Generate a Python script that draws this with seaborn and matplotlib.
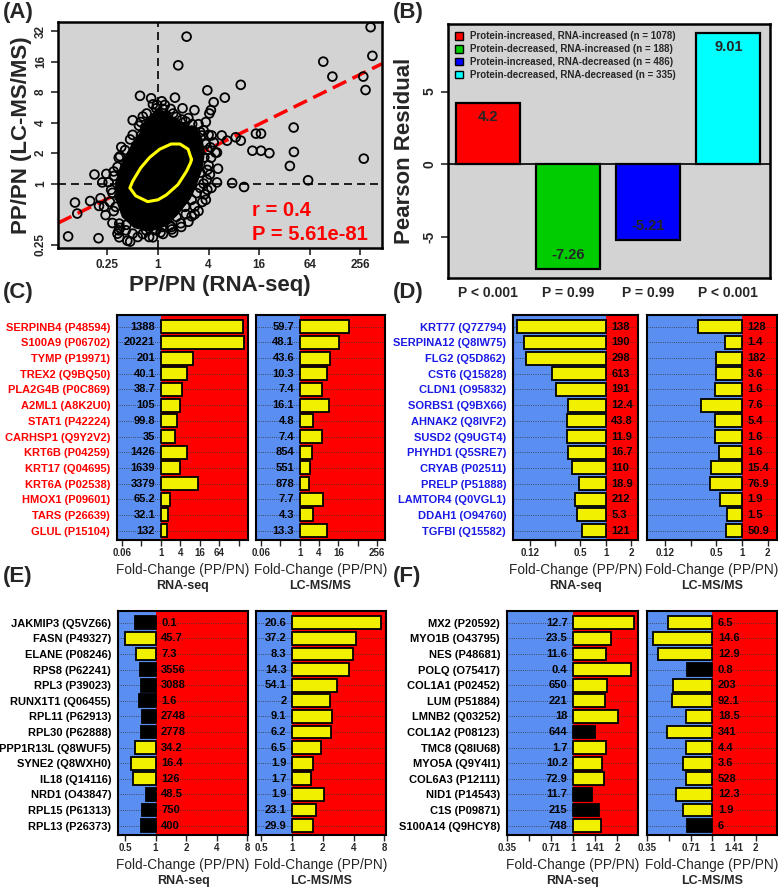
import matplotlib
matplotlib.use('Agg')
import matplotlib.pyplot as plt
import seaborn as sns
from matplotlib.patches import Patch

sns.set_theme(style='white')
plt.rcParams['font.family'] = ['Liberation Sans', 'DejaVu Sans']

# ---------------- panel A data (log2 fold change) ----------------
scatter_rna = [1.13, 0.80, 3.27, 1.95, 0.67, -0.71, -0.27, 0.97, -0.04, 2.20, 2.64, 1.44, 2.09, 2.03, 1.89,
               -1.00, 0.73, -0.68, 1.09, 1.03, -0.51,
               6.53, 6.89, 8.40, 8.47, 8.11, 8.20, 5.36, 5.37, 5.21, 8.13, 5.93, 3.40, 2.93, 2.33, 2.11,
               2.12, 2.52, 2.73, 3.07, 3.27, 3.87, 4.07, 3.73, 4.07, 4.40, 2.27, 2.37,
               1.89, 1.33, 0.92, 0.53, 0.17, -0.20, -1.21, -1.60, -2.35, -3.55, -3.19, -3.28, -2.68, -2.33,
               -2.51, -2.20, -2.04, -2.27, -2.13, -2.07, -1.80, -1.55, -1.53,
               1.67, 1.73, 1.53, 2.07, 2.33, 1.83, 1.67, 1.93, 1.67, 1.53, 1.33, 1.07, 0.73, 0.47, -0.07,
               -0.47, -1.00, -1.27, -1.53, -1.67, -1.53, -1.40, -1.20, -1.27, -1.07, -0.87, -0.67, -0.47,
               -0.27, 0.04, -0.07, 0.33, 0.60, 0.93, 1.33, 0.27, -1.33, -1.07, -0.80,
               1.90, 2.00, 1.80, 1.45, 1.10, 0.20, -0.80, -1.80, -1.75, -1.55, -1.30, -1.00, -0.60, 0.15,
               0.50, 1.20, 1.60, 2.20, 2.10, 1.95, 1.85, 1.60, 0.90, 0.60, -0.35, -1.10, -1.90, -1.95,
               -1.60, -1.45,
               2.00, 2.05, 1.75, 1.20, 0.10, -0.60, -1.25, -1.75, -1.85, -1.75, -1.50, -1.10, -0.75,
               -0.45, -0.20, 0.20, 0.60, 0.95, 1.35, 1.80, 1.95, 1.95, 1.45, 0.55, -1.50]
scatter_prot = [4.82, 3.88, 3.24, 3.06, 2.82, 2.88, 2.80, 2.47, 2.58, 2.67, 2.82, 2.41, 2.41, 2.30, 2.02,
                2.08, 2.19, 2.02, 2.04, 1.84, 1.84,
                4.00, 3.51, 5.13, 4.19, 3.51, 3.07, 1.84, 1.04, 0.58, 0.82, 0.11, -0.11, 0.02, 0.04, -0.14,
                1.58, 1.58, 1.41, 1.52, 1.41, 1.64, 1.64, 1.08, 1.08, 1.00, 1.02, 0.49,
                -0.53, -1.07, -1.42, -1.42, -1.42, -1.76, -1.87, -1.64, -1.79, -1.73, -0.98, -0.62, -0.57, -0.73,
                0.30, 0.04, 0.32, -0.48, -0.76, -1.03, -1.29, -1.53, -1.76,
                1.69, 1.58, 1.36, 1.19, 1.02, 0.86, 0.36, 0.13, -0.14, -0.31, -0.53, -0.76, -1.09, -1.37, -1.53,
                -1.53, -1.64, -1.53, -1.31, -0.76, -0.42, -0.09, 0.19, 0.58, 0.80, 1.24, 1.58, 1.80,
                2.02, 2.30, 2.47, 2.24, 2.02, 1.86, 1.74, 2.58, 0.08, 0.47, 0.36,
                1.30, 0.60, 0.00, -0.75, -1.00, -1.65, -1.75, -0.30, 0.25, 0.85, 1.10, 1.60, 2.20, 2.70,
                2.45, 2.15, 1.95, 1.35, 0.85, 0.45, -0.35, -0.90, -1.30, -1.60, -1.75, -1.90, -0.60, 0.05,
                0.55, 1.20,
                1.60, 0.30, -0.60, -1.25, -1.60, -1.65, -1.35, -0.90, -0.20, 0.40, 0.90, 1.45, 1.90,
                2.30, 2.60, 2.45, 2.30, 2.10, 1.95, 1.75, 1.10, -0.20, -1.00, -1.50, -1.45]
# dense core of the cloud (outline of the solid black area)
core_rna = [-0.07, 0.40, 0.73, 1.13, 1.53, 1.73, 1.83, 1.73, 1.53, 1.27, 0.80, 0.33, -0.33, -0.93,
            -1.40, -1.64, -1.67, -1.47, -1.20, -0.87, -0.53, -0.27]
core_prot = [2.41, 2.30, 2.08, 1.91, 1.80, 1.47, 1.02, 0.47, 0.02, -0.48, -0.98, -1.37, -1.56, -1.44,
             -1.09, -0.53, 0.02, 0.58, 1.02, 1.47, 1.86, 2.24]
# yellow density contour
contour_rna = [1.32, 1.19, 0.87, 0.52, 0.07, -0.33, -0.68, -1.00, -1.11, -0.88, -0.41, 0.00, 0.33,
               0.79, 1.13, 1.29, 1.32]
contour_prot = [0.80, 1.13, 1.30, 1.30, 1.13, 0.86, 0.52, 0.08, -0.14, -0.40, -0.59, -0.53, -0.37,
                -0.03, 0.41, 0.69, 0.80]
reg_intercept = 0.32
reg_slope = 0.408
a_xticks = [-2, 0, 2, 4, 6, 8]
a_xticklabels = ['0.25', '1', '4', '16', '64', '256']
a_yticks = [-2, 0, 1, 2, 3, 4, 5]
a_yticklabels = ['0.25', '1', '2', '4', '8', '16', '32']

# ---------------- panel B data ----------------
b_groups = ['Protein-increased, RNA-increased (n = 1078)',
            'Protein-decreased, RNA-increased (n = 188)',
            'Protein-increased, RNA-decreased (n = 486)',
            'Protein-decreased, RNA-decreased (n = 335)']
b_residuals = [4.2, -7.26, -5.21, 9.01]
b_pvals = ['P < 0.001', 'P = 0.99', 'P = 0.99', 'P < 0.001']
b_colors = ['#ff0000', '#00cd00', '#0000ff', '#00ffff']

# ---------------- panels C-F data (log2 fold change PP/PN) ----------------
c_genes = ['SERPINB4 (P48594)', 'S100A9 (P06702)', 'TYMP (P19971)', 'TREX2 (Q9BQ50)', 'PLA2G4B (P0C869)',
           'A2ML1 (A8K2U0)', 'STAT1 (P42224)', 'CARHSP1 (Q9Y2V2)', 'KRT6B (P04259)', 'KRT17 (Q04695)',
           'KRT6A (P02538)', 'HMOX1 (P09601)', 'TARS (P26639)', 'GLUL (P15104)']
c_rna_fc = [8.46, 8.57, 3.28, 2.66, 2.15, 1.98, 1.64, 1.43, 2.70, 2.01, 3.79, 0.96, 0.78, 0.68]
c_prot_fc = [5.04, 4.10, 3.13, 2.78, 2.33, 2.99, 1.39, 2.33, 1.32, 1.11, 1.01, 2.43, 1.39, 2.78]
c_rna_n = ['1388', '20221', '201', '40.1', '38.7', '105', '99.8', '35', '1426', '1639', '3379', '65.2', '32.1', '132']
c_prot_n = ['59.7', '48.1', '43.6', '10.3', '7.4', '16.1', '4.8', '7.4', '854', '551', '878', '7.7', '4.3', '13.3']
c_rna_sig = [1] * 14
c_prot_sig = [1] * 14

d_genes = ['KRT77 (Q7Z794)', 'SERPINA12 (Q8IW75)', 'FLG2 (Q5D862)', 'CST6 (Q15828)', 'CLDN1 (O95832)',
           'SORBS1 (Q9BX66)', 'AHNAK2 (Q8IVF2)', 'SUSD2 (Q9UGT4)', 'PHYHD1 (Q5SRE7)', 'CRYAB (P02511)',
           'PRELP (P51888)', 'LAMTOR4 (Q0VGL1)', 'DDAH1 (O94760)', 'TGFBI (Q15582)']
d_rna_fc = [-3.49, -3.22, -3.16, -2.12, -1.95, -1.47, -1.51, -1.51, -1.49, -1.33, -1.05, -1.21, -1.13, -0.93]
d_prot_fc = [-1.73, -0.65, -1.00, -1.03, -1.04, -1.60, -1.05, -1.05, -0.88, -1.21, -1.23, -0.84, -0.58, -0.62]
d_rna_n = ['138', '190', '298', '613', '191', '12.4', '43.8', '11.9', '16.7', '110', '18.9', '212', '5.3', '121']
d_prot_n = ['128', '1.4', '182', '3.6', '1.6', '7.6', '5.4', '1.6', '1.6', '15.4', '76.9', '1.9', '1.5', '50.9']
d_rna_sig = [1] * 14
d_prot_sig = [1] * 14

e_genes = ['JAKMIP3 (Q5VZ66)', 'FASN (P49327)', 'ELANE (P08246)', 'RPS8 (P62241)', 'RPL3 (P39023)',
           'RUNX1T1 (Q06455)', 'RPL11 (P62913)', 'RPL30 (P62888)', 'PPP1R13L (Q8WUF5)', 'SYNE2 (Q8WXH0)',
           'IL18 (Q14116)', 'NRD1 (O43847)', 'RPL15 (P61313)', 'RPL13 (P26373)']
e_rna_fc = [-0.68, -0.99, -0.63, -0.50, -0.47, -0.54, -0.43, -0.47, -0.67, -0.82, -0.74, -0.30, -0.43, -0.48]
e_prot_fc = [2.88, 2.08, 1.99, 1.85, 1.45, 1.23, 1.29, 1.25, 0.94, 0.69, 0.62, 1.04, 0.78, 0.69]
e_rna_n = ['0.1', '45.7', '7.3', '3556', '3088', '1.6', '2748', '2778', '34.2', '16.4', '126', '48.5', '750', '400']
e_prot_n = ['20.6', '37.2', '8.3', '14.3', '54.1', '2', '9.1', '6.2', '6.5', '1.9', '1.7', '1.9', '23.1', '29.9']
e_rna_sig = [0, 1, 1, 0, 0, 0, 0, 0, 1, 1, 1, 0, 0, 0]
e_prot_sig = [1] * 14

f_genes = ['MX2 (P20592)', 'MYO1B (O43795)', 'NES (P48681)', 'POLQ (O75417)', 'COL1A1 (P02452)',
           'LUM (P51884)', 'LMNB2 (Q03252)', 'COL1A2 (P08123)', 'TMC8 (Q8IU68)', 'MYO5A (Q9Y4I1)',
           'COL6A3 (P12111)', 'NID1 (P14543)', 'C1S (P09871)', 'S100A14 (Q9HCY8)']
f_rna_fc = [1.38, 0.86, 0.75, 1.32, 0.76, 0.73, 1.02, 0.49, 0.75, 0.65, 0.69, 0.43, 0.58, 0.64]
f_prot_fc = [-1.03, -1.38, -1.26, -0.58, -0.91, -0.93, -0.62, -1.05, -0.62, -0.68, -0.62, -0.84, -0.68, -0.58]
f_rna_n = ['12.7', '23.5', '11.6', '0.4', '650', '221', '18', '644', '1.7', '10.2', '72.9', '11.7', '215', '748']
f_prot_n = ['6.5', '14.6', '12.9', '0.8', '203', '92.1', '18.5', '341', '4.4', '3.6', '528', '12.3', '1.9', '6']
f_rna_sig = [1, 1, 1, 1, 1, 1, 1, 0, 1, 1, 1, 0, 0, 1]
f_prot_sig = [1, 1, 1, 0, 1, 1, 1, 1, 1, 1, 1, 1, 1, 0]

c_ticks = [-4, -2, 0, 2, 4, 6, 8]
c_rna_ticklabels = ['0.06', '', '1', '4', '16', '64', '']
c_prot_ticklabels = ['0.06', '', '1', '4', '16', '', '256']
d_ticks = [-3, -2, -1, 0, 1]
d_ticklabels = ['0.12', '', '0.5', '1', '2']
e_ticks = [-1, 0, 1, 2, 3]
e_ticklabels = ['0.5', '1', '2', '4', '8']
f_ticks = [-1.5, -1, -0.5, 0, 0.5, 1]
f_ticklabels = ['0.35', '', '0.71', '1', '1.41', '2']

BLUE = '#5a8ef0'
RED = '#ff0000'
YELLOW = '#f0f000'
GRAY = '#d3d3d3'

W, H = 778, 889
fig = plt.figure(figsize=(W / 100, H / 100), dpi=100)


def px_axes(left, top, right, bottom):
    return fig.add_axes([left / W, 1 - bottom / H, (right - left) / W, (bottom - top) / H])


def frame(ax, lw=1.8):
    for s in ax.spines.values():
        s.set_visible(True)
        s.set_color('black')
        s.set_linewidth(lw)


# ---------------- A ----------------
ax = px_axes(58, 22, 382, 248)
ax.set_facecolor(GRAY)
ax.axvline(0, color='black', ls=(0, (4.8, 3)), lw=1.2, zorder=1)
ax.axhline(0, color='black', ls=(0, (4.8, 3)), lw=1.2, zorder=1)
ax.axline((0, reg_intercept), slope=reg_slope, color='red', ls=(0, (4.3, 2)), lw=2.5, zorder=1.5)
ax.fill(core_rna, core_prot, color='black', zorder=2)
sns.scatterplot(x=scatter_rna, y=scatter_prot, ax=ax, s=40, color='black', linewidth=1.3, zorder=3)
pts = ax.collections[-1]
pts.set_facecolor('none')
pts.set_edgecolor('black')
ax.plot(contour_rna, contour_prot, color='#ffff00', lw=2.2, zorder=4)
ax.set_xlim(-3.95, 8.85)
ax.set_ylim(-2.11, 5.3)
ax.set_xticks(a_xticks)
ax.set_xticklabels(a_xticklabels, fontsize=8.5, fontweight='bold')
ax.set_yticks(a_yticks)
ax.set_yticklabels(a_yticklabels, fontsize=8.5, fontweight='bold', rotation=90, va='center')
ax.tick_params(axis='both', direction='out', length=5, width=1.2, bottom=True, left=True, pad=3)
ax.set_xlabel('PP/PN (RNA-seq)', fontsize=16, fontweight='bold', labelpad=3)
ax.set_ylabel('PP/PN (LC-MS/MS)', fontsize=16, fontweight='bold', labelpad=2)
ax.text(0.60, 0.165, 'r = 0.4', transform=ax.transAxes, color='red', fontsize=14.5,
        fontweight='bold', va='center')
ax.text(0.60, 0.058, 'P = 5.61e-81', transform=ax.transAxes, color='red', fontsize=14.5,
        fontweight='bold', va='center')
frame(ax)

# ---------------- B ----------------
ax = px_axes(448, 24, 770, 278)
ax.set_facecolor(GRAY)
sns.barplot(x=b_groups, y=b_residuals, hue=b_groups, palette=dict(zip(b_groups, b_colors)),
            legend=False, width=0.8, edgecolor='black', linewidth=1.6, saturation=1, ax=ax)
ax.axhline(0, color='black', lw=1.2, zorder=0.5)
for i, v in enumerate(b_residuals):
    off = -10 if v > 0 else 10
    ax.annotate(f'{v:g}', xy=(i, v), xytext=(0, off), textcoords='offset points', ha='center',
                va='center', fontsize=10.5, fontweight='bold')
ax.set_xlim(-0.5, 3.52)
ax.set_ylim(-7.86, 9.66)
ax.set_xticks(range(4))
ax.set_xticklabels(b_pvals, fontsize=10, fontweight='bold')
ax.set_yticks([-5, 0, 5])
ax.set_yticklabels(['-5', '0', '5'], fontsize=10, fontweight='bold', rotation=90, va='center')
ax.tick_params(axis='x', length=0, pad=6)
ax.tick_params(axis='y', direction='out', length=5, width=1.2, left=True, pad=3)
ax.set_ylabel('Pearson Residual', fontsize=16, fontweight='bold', labelpad=6)
handles = [Patch(facecolor=c, edgecolor='black', label=l) for c, l in zip(b_colors, b_groups)]
ax.legend(handles=handles, loc='upper left', frameon=False, handlelength=0.8, handleheight=0.8,
          handletextpad=0.7, labelspacing=0.3, borderaxespad=0.35,
          prop={'size': 7, 'weight': 'bold'})
frame(ax)


# ---------------- C-F ----------------
def bar_panel(box, genes, fc, nums, sig, xlim, ticks, ticklabels, sub, gene_color=None):
    ax = px_axes(*box)
    n = len(genes)
    colors = [YELLOW if s else 'black' for s in sig]
    sns.barplot(x=fc, y=genes, hue=genes, palette=dict(zip(genes, colors)), legend=False,
                orient='h', width=0.82, edgecolor='black', linewidth=1.3, saturation=1, ax=ax)
    for p in ax.patches:
        p.set_zorder(3)
    ax.axvspan(xlim[0], 0, color=BLUE, zorder=0, lw=0)
    ax.axvspan(0, xlim[1], color=RED, zorder=0, lw=0)
    for i in range(n):
        ax.axhline(i, color='#333333', ls=':', lw=0.6, zorder=1)
    for i, (v, t) in enumerate(zip(fc, nums)):
        side = -1 if v > 0 else 1
        ax.annotate(t, xy=(0, i), xytext=(side * 4, 0), textcoords='offset points',
                    ha='right' if side < 0 else 'left', va='center', fontsize=8,
                    fontweight='bold', color='black', zorder=4)
    ax.set_xlim(*xlim)
    ax.set_ylim(n - 0.4, -0.75)
    ax.set_xticks(ticks)
    ax.set_xticklabels(ticklabels, fontsize=7, fontweight='bold')
    ax.tick_params(axis='x', direction='out', length=4, width=1, bottom=True, pad=2)
    ax.set_xlabel('')
    ax.set_ylabel('')
    if gene_color is not None:
        ax.set_yticks(range(n))
        ax.set_yticklabels(genes, fontsize=8, fontweight='bold', color=gene_color)
        ax.tick_params(axis='y', length=0, pad=5)
    else:
        ax.set_yticks([])
    ax.text(0.5, -0.135, 'Fold-Change (PP/PN)', transform=ax.transAxes, ha='center', va='center',
            fontsize=9.8)
    ax.text(0.5, -0.205, sub, transform=ax.transAxes, ha='center', va='center', fontsize=9,
            fontweight='bold')
    frame(ax, 1.5)
    return ax


bar_panel((117, 315, 248, 540), c_genes, c_rna_fc, c_rna_n, c_rna_sig, (-4.5, 8.97), c_ticks,
          c_rna_ticklabels, 'RNA-seq', '#ff0000')
bar_panel((256, 315, 385, 540), c_genes, c_prot_fc, c_prot_n, c_prot_sig, (-4.5, 8.8), c_ticks,
          c_prot_ticklabels, 'LC-MS/MS')
bar_panel((513, 315, 638, 540), d_genes, d_rna_fc, d_rna_n, d_rna_sig, (-3.66, 1.28), d_ticks,
          d_ticklabels, 'RNA-seq', '#1a1ae6')
bar_panel((647, 315, 777, 540), d_genes, d_prot_fc, d_prot_n, d_prot_sig, (-3.7, 1.36), d_ticks,
          d_ticklabels, 'LC-MS/MS')
bar_panel((118, 611, 248, 835), e_genes, e_rna_fc, e_rna_n, e_rna_sig, (-1.23, 3.03), e_ticks,
          e_ticklabels, 'RNA-seq', 'black')
bar_panel((256, 611, 386, 835), e_genes, e_prot_fc, e_prot_n, e_prot_sig, (-1.17, 3.05), e_ticks,
          e_ticklabels, 'LC-MS/MS')
bar_panel((507, 611, 638, 835), f_genes, f_rna_fc, f_rna_n, f_rna_sig, (-1.48, 1.47), f_ticks,
          f_ticklabels, 'RNA-seq', 'black')
bar_panel((647, 611, 777, 835), f_genes, f_prot_fc, f_prot_n, f_prot_sig, (-1.51, 1.49), f_ticks,
          f_ticklabels, 'LC-MS/MS')

for lab, x, y in [('(A)', 3, 2), ('(B)', 393, 2), ('(C)', 3, 282), ('(D)', 393, 282),
                  ('(E)', 3, 566), ('(F)', 393, 566)]:
    fig.text(x / W, 1 - y / H, lab, fontsize=16, fontweight='bold', va='top', ha='left')

fig.savefig('out.png', dpi=100)
